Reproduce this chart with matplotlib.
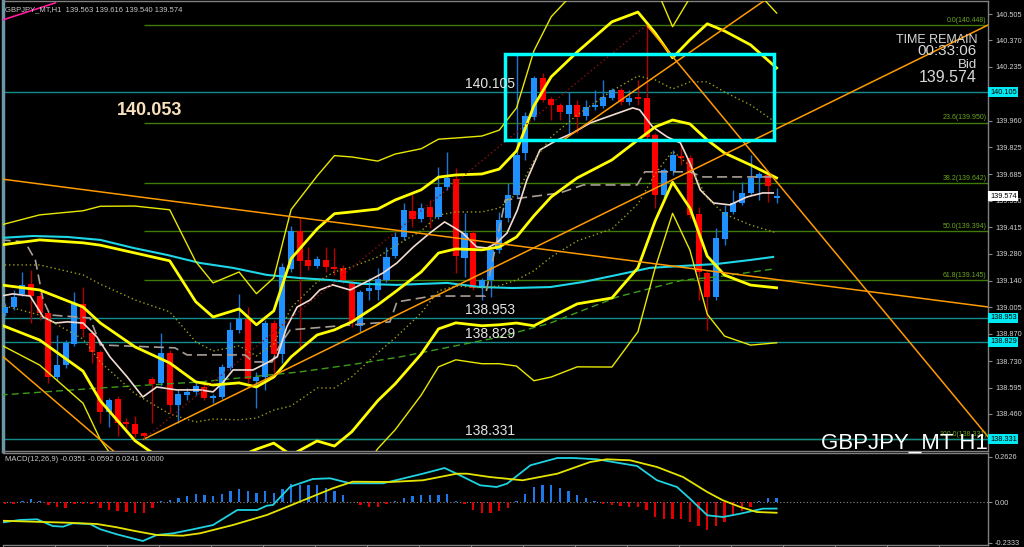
import numpy as np
import matplotlib.pyplot as plt
from matplotlib.patches import Rectangle
from matplotlib.transforms import blended_transform_factory

plt.rcParams['font.family'] = ['Liberation Sans', 'DejaVu Sans']

# GBPJPY_MT H1 candles, oldest first
opens = [138.977, 139.007, 139.074, 139.125, 139.063, 138.977, 138.649, 138.711, 138.818, 139.022,
         138.874, 138.777, 138.470, 138.537, 138.419, 138.409, 138.363, 138.639, 138.619, 138.772,
         138.506, 138.557, 138.573, 138.598, 138.542, 138.547, 138.695, 138.890, 138.946, 138.629,
         138.649, 138.925, 138.767, 139.201, 139.395, 139.247, 139.217, 139.247, 139.211, 139.206,
         139.135, 138.910, 139.089, 139.094, 139.145, 139.268, 139.365, 139.498, 139.457, 139.519,
         139.467, 139.621, 139.662, 139.257, 139.385, 139.104, 139.145, 139.299, 139.462, 139.580,
         139.794, 139.978, 140.178, 140.071, 140.040, 139.994, 140.040, 139.984, 140.030, 140.035,
         140.076, 140.117, 140.055, 140.081, 140.076, 139.886, 139.580, 139.703, 139.779, 139.769,
         139.483, 139.181, 139.058, 139.355, 139.493, 139.539, 139.590, 139.667, 139.682, 139.563]
highs = [139.028, 139.094, 139.186, 139.196, 139.084, 138.992, 138.864, 138.839, 139.084, 139.109,
         138.890, 138.787, 138.542, 138.552, 138.440, 138.450, 138.368, 138.649, 138.874, 138.787,
         138.583, 138.593, 138.634, 138.614, 138.562, 138.716, 138.931, 139.074, 139.007, 138.675,
         138.941, 138.941, 139.232, 139.421, 139.462, 139.314, 139.268, 139.314, 139.309, 139.222,
         139.145, 139.094, 139.155, 139.206, 139.314, 139.390, 139.539, 139.590, 139.539, 139.554,
         139.723, 139.800, 139.718, 139.488, 139.401, 139.155, 139.314, 139.493, 139.641, 140.296,
         140.004, 140.188, 140.204, 140.081, 140.050, 140.106, 140.065, 140.065, 140.117, 140.168,
         140.127, 140.127, 140.117, 140.168, 140.448, 139.897, 139.718, 139.810, 139.835, 139.784,
         139.519, 139.196, 139.411, 139.529, 139.605, 139.646, 139.784, 139.698, 139.692, 139.616]
lows = [138.961, 138.992, 139.063, 138.925, 138.941, 138.619, 138.634, 138.695, 138.808, 138.854,
        138.721, 138.414, 138.394, 138.345, 138.389, 138.343, 138.331, 138.414, 138.603, 138.465,
        138.414, 138.532, 138.557, 138.532, 138.516, 138.537, 138.685, 138.874, 138.619, 138.491,
        138.583, 138.649, 138.721, 139.186, 138.803, 139.196, 139.206, 139.186, 139.170, 139.130,
        138.905, 138.880, 139.043, 139.043, 139.135, 139.257, 139.350, 139.416, 139.442, 139.411,
        139.457, 139.605, 139.181, 139.160, 139.094, 139.043, 139.058, 139.283, 139.442, 139.564,
        139.759, 139.963, 140.055, 139.963, 139.963, 139.886, 139.897, 139.963, 140.014, 140.025,
        140.065, 140.040, 140.040, 140.040, 139.862, 139.513, 139.554, 139.682, 139.733, 139.462,
        139.043, 138.890, 139.043, 139.324, 139.483, 139.529, 139.580, 139.554, 139.544, 139.540]
closes = [139.007, 139.058, 139.119, 139.063, 138.977, 138.649, 138.711, 138.823, 139.022, 138.895,
          138.777, 138.470, 138.532, 138.414, 138.409, 138.358, 138.348, 138.614, 138.772, 138.506,
          138.562, 138.573, 138.603, 138.542, 138.552, 138.700, 138.890, 138.946, 138.639, 138.649,
          138.925, 138.767, 139.211, 139.395, 139.242, 139.217, 139.252, 139.211, 139.201, 139.145,
          138.931, 139.084, 139.104, 139.150, 139.263, 139.365, 139.503, 139.457, 139.513, 139.467,
          139.621, 139.667, 139.268, 139.385, 139.104, 139.145, 139.299, 139.452, 139.580, 139.784,
          139.984, 140.178, 140.065, 140.040, 140.004, 140.040, 139.978, 140.030, 140.040, 140.081,
          140.117, 140.055, 140.076, 140.071, 139.876, 139.580, 139.708, 139.784, 139.769, 139.478,
          139.186, 139.058, 139.360, 139.493, 139.539, 139.590, 139.667, 139.687, 139.626, 139.574]

# bollinger bands: middle line and one deviation, read at some bars
bb_bar = [-0.5, 4, 9, 11, 15, 19, 22, 24, 27, 29, 31, 33, 36, 38, 40, 43, 45, 48, 50, 52,
          55, 57, 59, 61, 63, 66, 70, 73, 75, 77, 79, 81, 83, 86, 89]
bb_mid = [139.120, 139.094, 139.007, 138.925, 138.803, 138.721, 138.624, 138.608, 138.619, 138.598,
          138.649, 138.752, 138.864, 138.890, 138.931, 139.018, 139.084, 139.186, 139.283, 139.304,
          139.299, 139.314, 139.365, 139.473, 139.570, 139.667, 139.759, 139.861, 139.928, 139.963,
          139.943, 139.861, 139.794, 139.733, 139.667]
bb_sd = [0.102, 0.128, 0.164, 0.199, 0.240, 0.261, 0.205, 0.174, 0.189, 0.159,
         0.169, 0.251, 0.271, 0.297, 0.281, 0.245, 0.235, 0.210, 0.194, 0.189,
         0.194, 0.199, 0.220, 0.281, 0.307, 0.322, 0.353, 0.327, 0.240, 0.159,
         0.215, 0.297, 0.312, 0.307, 0.281]

# fast MA (white)
fast_bar = [-0.5, 0.9, 2.9, 4.4, 5.8, 7.2, 9.0, 10.6, 12.1, 14.1, 15.9, 17.5, 19.8, 22.5, 24.0,
            25.1, 26.3, 28.6, 30.2, 31.4, 32.5, 33.7, 35.2, 36.3, 37.8, 39.8, 42.1, 43.6, 45.2,
            47.1, 49.0, 50.7, 51.7, 52.8, 54.4, 55.6, 56.7, 57.9, 59.1, 60.2, 61.7, 63.7, 65.5,
            67.5, 70.1, 72.4, 73.2, 74.7, 76.4, 77.9, 79.0, 80.2, 81.7, 83.6, 85.6, 87.4, 88.6]
fast_ma = [139.063, 139.074, 139.063, 138.956, 138.925, 138.931, 138.925, 138.854, 138.752, 138.649,
           138.547, 138.598, 138.583, 138.583, 138.573, 138.619, 138.685, 138.685, 138.721, 138.752,
           138.905, 139.007, 139.043, 139.094, 139.120, 139.094, 139.145, 139.181, 139.232, 139.314,
           139.385, 139.442, 139.416, 139.385, 139.314, 139.309, 139.334, 139.385, 139.503, 139.657,
           139.810, 139.861, 139.897, 139.948, 139.989, 140.025, 140.015, 139.928, 139.876, 139.846,
           139.743, 139.605, 139.539, 139.529, 139.570, 139.590, 139.590]

# slow MA (cyan)
cyan_bar = [-0.5, 3.2, 7.2, 11.0, 14.8, 18.7, 22.5, 26.3, 30.2, 34.0, 37.5, 41.3, 45.2, 51.0,
            54.8, 58.6, 62.9, 66.7, 70.6, 74.4, 78.2, 82.1, 85.9, 88.6]
cyan_ma = [139.360, 139.370, 139.365, 139.350, 139.309, 139.273, 139.232, 139.207, 139.171, 139.155,
           139.145, 139.125, 139.120, 139.130, 139.109, 139.104, 139.109, 139.135, 139.171, 139.207,
           139.217, 139.227, 139.247, 139.263]

# long MA (green dashed)
green_bar = [-0.5, 11.0, 22.5, 34.0, 39.8, 45.6, 57.1, 62.9, 70.6, 78.2, 82.1, 88.6]
green_ma = [138.557, 138.593, 138.624, 138.675, 138.711, 138.752, 138.854, 138.925, 139.058,
            139.145, 139.161, 139.201]

# step line (gray dashed)
step_bar = [-0.5, 2.3, 3.5, 4.4, 5.2, 9.8, 11.0, 19.6, 21.0, 27.7, 28.6, 30.8, 31.7, 32.9,
            39.8, 44.4, 45.2, 49.3, 55.4, 57.7, 64.0, 66.7, 72.9, 73.8, 79.0, 80.5, 88.6]
step_line = [139.350, 139.340, 139.247, 139.043, 138.966, 138.951, 138.813, 138.798, 138.762,
             138.762, 138.726, 138.726, 138.813, 138.890, 138.915, 138.931, 139.033, 139.063,
             139.063, 139.554, 139.590, 139.631, 139.631, 139.698, 139.698, 139.672, 139.672]

# MACD(12,26,9)
macd_bar = [-0.5, 1.7, 3.7, 5.5, 6.7, 7.8, 9.8, 11.0, 12.9, 15.9, 17.5, 19.4, 21.7, 24.0, 26.8,
            29.1, 30.2, 30.9, 32.9, 35.5, 37.5, 39.8, 43.6, 45.2, 48.2, 50.7, 52.1, 54.8, 56.7,
            57.9, 60.6, 63.7, 65.5, 68.3, 71.3, 72.9, 75.2, 77.5, 79.0, 81.0, 82.8, 84.8, 87.4, 89]
macd_main = [-0.1165, -0.1009, -0.0969, -0.1355, -0.1395, -0.1199, -0.1240, -0.1545, -0.1834, -0.2220,
             -0.1874, -0.1776, -0.1545, -0.1297, -0.0432, -0.0432, -0.0185, -0.0144, 0.0911, 0.1355,
             0.1395, 0.1107, 0.1107, 0.1297, 0.1661, 0.1989, 0.1661, 0.0992, 0.0894, 0.1084,
             0.2145, 0.2566, 0.2566, 0.2491, 0.2237, 0.2105, 0.1280, 0.0894, 0.0219, -0.0738,
             -0.0836, -0.0646, -0.0357, -0.0351]
sig_bar = [-0.5, 3.2, 7.2, 10.6, 12.9, 14.8, 17.5, 20.5, 22.5, 26.3, 30.2, 34.0, 37.8, 40.1, 44.4,
           48.2, 52.1, 53.3, 55.9, 59.7, 63.7, 67.5, 69.4, 72.1, 75.2, 78.2, 81.0, 82.8, 84.8, 86.7, 89]
macd_signal = [-0.1049, -0.1107, -0.1165, -0.1240, -0.1430, -0.1626, -0.1874, -0.1914, -0.1776, -0.1297,
               -0.0721, 0.0046, 0.0819, 0.1199, 0.1182, 0.1280, 0.1661, 0.1661, 0.1470, 0.1280,
               0.1661, 0.2335, 0.2491, 0.2433, 0.2047, 0.1470, 0.0605, 0.0127, -0.0259, -0.0548, -0.0592]
macd_hist = [-0.0086, -0.0058, 0.0058, 0.0173, 0.0115, -0.0173, -0.0271, -0.0306, -0.0058, -0.0058,
             -0.0075, -0.0329, -0.0421, -0.0502, -0.0559, -0.0577, -0.0577, -0.0329, 0.0098, 0.0156,
             0.0271, 0.0346, 0.0461, 0.0404, 0.0363, 0.0461, 0.0634, 0.0790, 0.0652, 0.0536,
             0.0634, 0.0536, 0.0790, 0.1078, 0.1021, 0.1021, 0.0980, 0.0825, 0.0634, 0.0421,
             0.0029, -0.0133, -0.0231, -0.0231, -0.0115, 0.0058, 0.0231, 0.0346, 0.0444, 0.0404,
             0.0444, 0.0479, 0.0098, -0.0098, -0.0421, -0.0634, -0.0634, -0.0519, -0.0306, 0.0058,
             0.0479, 0.0865, 0.0980, 0.0980, 0.0807, 0.0652, 0.0444, 0.0248, 0.0058, -0.0058,
             -0.0133, -0.0190, -0.0248, -0.0288, -0.0444, -0.0825, -0.0963, -0.0963, -0.0963, -0.1096,
             -0.1343, -0.1597, -0.1384, -0.1113, -0.0767, -0.0519, -0.0231, 0.0098, 0.0231, 0.0241]

# objects on the chart
level_lines = [140.105, 138.953, 138.829, 138.331]
fib_pct = ['0.0', '23.6', '38.2', '50.0', '61.8', '100.0']
fib_price = [140.448, 139.950, 139.642, 139.394, 139.145, 138.331]
fib_low_bar, fib_high_bar = 16, 74
note_price = 140.053
box_bars = (57.7, 88.7)
box_prices = (139.861, 140.301)
# trend lines: bar0, price0, bar1, price1, extend both ways?
trend_lines = [(0, 139.659, 113.4, 139.007, True),
               (16, 138.331, 113.4, 140.449, False),
               (64.4, 139.861, 87.7, 140.577, False),
               (74, 140.448, 113.4, 138.343, False),
               (0, 138.745, 12.1, 138.286, True)]
pink_line = (-0.23, 140.475, 5.8, 140.562)

price_ticks = [140.505, 140.370, 140.235, 139.960, 139.825, 139.685, 139.550, 139.415,
               139.280, 139.140, 139.005, 138.870, 138.730, 138.595, 138.460]
macd_ticks = [0.2626, 0.0, -0.2333]

W, H = 1024, 547
fig = plt.figure(figsize=(W / 100, H / 100), dpi=100, facecolor='black')


def px_box(x0, y0, x1, y1):
    return [x0 / W, 1 - y1 / H, (x1 - x0) / W, (y1 - y0) / H]


ax = fig.add_axes(px_box(3, 1, 988, 451), facecolor='black')
axm = fig.add_axes(px_box(3, 453, 988, 545), facecolor='black')
xmin, xmax = -0.23, 113.38
for a in (ax, axm):
    a.set_xlim(xmin, xmax)
    for s in a.spines.values():
        s.set_color('#808080')
        s.set_linewidth(1)
ax.spines['left'].set_color('#6c98a6')
ax.spines['left'].set_linewidth(2.5)
axm.spines['left'].set_visible(False)
ax.set_ylim(138.2707, 140.5715)
axm.set_ylim(-0.2451, 0.2854)

# horizontal objects
ax.hlines(fib_price, fib_low_bar, xmax, color='#3f7a0a', lw=1, zorder=1)
ax.hlines(level_lines, xmin, xmax, color='#128c8c', lw=1, zorder=1.2)

# candles
bar = np.arange(len(closes))
o, hi, lo, c = (np.array(v) for v in (opens, highs, lows, closes))
up = c >= o
ax.vlines(bar[up], lo[up], hi[up], color='#1c74d4', lw=1, zorder=3)
ax.vlines(bar[~up], lo[~up], hi[~up], color='#b40000', lw=1, zorder=3)
ax.bar(bar, np.maximum(np.abs(c - o), 0.004), bottom=np.minimum(o, c), width=0.7,
       color=np.where(up, '#1e90ff', '#ff0000'), lw=0, zorder=3.5)

# bollinger bands
bx, mid, sd = np.array(bb_bar), np.array(bb_mid), np.array(bb_sd)
ax.plot(bx, mid, color='#ffff00', lw=2, zorder=5)
for k in (2, -2):
    ax.plot(bx, mid + k * sd, color='#ffff00', lw=2, zorder=5)
for k in (3, -3):
    ax.plot(bx, mid + k * sd, color='#e8e800', lw=1, zorder=5)
for k in (1, -1):
    ax.plot(bx, mid + k * sd, color='#9c9c1c', lw=1, ls=(0, (1, 2)), zorder=5)

ax.plot(cyan_bar, cyan_ma, color='#1ed6e6', lw=1.5, zorder=4.5)
ax.plot(green_bar, green_ma, color='#3c9c1c', lw=1, ls=(0, (5, 3)), zorder=4.5)
ax.plot(step_bar, step_line, color='#a89e96', lw=1.2, ls=(0, (6, 3)), zorder=4.5)
ax.plot(fast_bar, fast_ma, color='#f2dcd2', lw=1.2, zorder=4.6)

# trend lines
for x0, p0, x1, p1, both in trend_lines:
    if both:
        ax.axline((x0, p0), (x1, p1), color='#ff9a00', lw=1.1, zorder=6)
    else:
        k = (p1 - p0) / (x1 - x0)
        ax.plot([x0, 120], [p0, p0 + k * (120 - x0)], color='#ff9a00', lw=1.1, zorder=6)
ax.plot(pink_line[0::2], pink_line[1::2], color='#ff1c9c', lw=1.2, zorder=6)
ax.plot([fib_low_bar, fib_high_bar], [fib_price[-1], fib_price[0]], color='#8c1010',
        lw=1, ls=(0, (1, 2)), zorder=6)
ax.add_patch(Rectangle((box_bars[0], box_prices[0]), box_bars[1] - box_bars[0],
                       box_prices[1] - box_prices[0], fill=False, ec='#00ffff', lw=2.5, zorder=6))

# texts on the chart
for pct, p in zip(fib_pct, fib_price):
    ax.text(113.25, p + 0.006, f'{pct}({p:.3f})', ha='right', va='bottom', fontsize=5,
            color='#6aa81e', zorder=7)
for p in level_lines:
    ax.text(53.0, p + 0.004, f'{p:.3f}', ha='left', va='bottom', fontsize=10,
            color='#e4e4e4', zorder=8)
ax.text(12.9, note_price, f'{note_price:.3f}', ha='left', va='top', fontsize=13,
        fontweight='bold', color='#f8e2bc', zorder=8)

# right price scale
ax.yaxis.tick_right()
ax.set_yticks(price_ticks)
ax.set_yticklabels([f'{t:.3f}' for t in price_ticks])
ax.tick_params(axis='y', color='#8a8a8a', labelcolor='#d0d0d0', labelsize=5.3, length=3,
               width=0.8, pad=2)
ax.set_xticks([])
trans = blended_transform_factory(ax.transAxes, ax.transData)
for p in level_lines:
    ax.text(1.002, p, f'{p:.3f}', transform=trans, ha='left', va='center', fontsize=5.3,
            color='black', clip_on=False, zorder=10,
            bbox=dict(boxstyle='square,pad=0.2', fc='#00e8f2', ec='none'))
ax.text(1.002, closes[-1], f'{closes[-1]:.3f}', transform=trans, ha='left', va='center',
        fontsize=5.3, color='black', clip_on=False, zorder=10,
        bbox=dict(boxstyle='square,pad=0.2', fc='white', ec='none'))

# MACD panel
hist = np.array(macd_hist)
axm.bar(bar, hist, width=0.28, color=np.where(hist >= 0, '#1e78e6', '#e00000'), lw=0, zorder=2)
axm.axhline(0, color='#8c8c8c', lw=0.8, ls=(0, (1, 2)), zorder=1)
axm.plot(macd_bar, macd_main, color='#1ed2e0', lw=1.3, zorder=3)
axm.plot(sig_bar, macd_signal, color='#e4e400', lw=1.3, zorder=3)
axm.yaxis.tick_right()
axm.set_yticks(macd_ticks)
axm.set_yticklabels(['0.2626', '0.00', '-0.2333'])
axm.tick_params(axis='y', color='#8a8a8a', labelcolor='#d0d0d0', labelsize=5.3, length=3,
                width=0.8, pad=2)
axm.set_xticks(np.arange(xmin, xmax, 6))
axm.tick_params(axis='x', color='#8a8a8a', length=2, width=0.8, labelbottom=False)

# header and info texts
fig.text(5 / W, 1 - 11 / H, 'GBPJPY_MT,H1  139.563 139.616 139.540 139.574', fontsize=5.5,
         color='#c8c8c8')
fig.text(5 / W, 1 - 461 / H, 'MACD(12,26,9) -0.0351 -0.0592 0.0241 0.0000', fontsize=5.5,
         color='#c8c8c8')
hud = [('TIME REMAIN', 43, 9), ('00:33:06', 55, 11), ('Bid', 68, 9.5), ('139.574', 82, 11.5)]
for txt, yb, fs in hud:
    fig.text(977 / W, 1 - yb / H, txt, ha='right', va='baseline', fontsize=fs, color='#d8d8d8')
fig.text(988 / W, 1 - 449 / H, 'GBPJPY_MT H1', ha='right', va='baseline', fontsize=16,
         color='white')

fig.savefig('out.png', dpi=100, facecolor='black')
